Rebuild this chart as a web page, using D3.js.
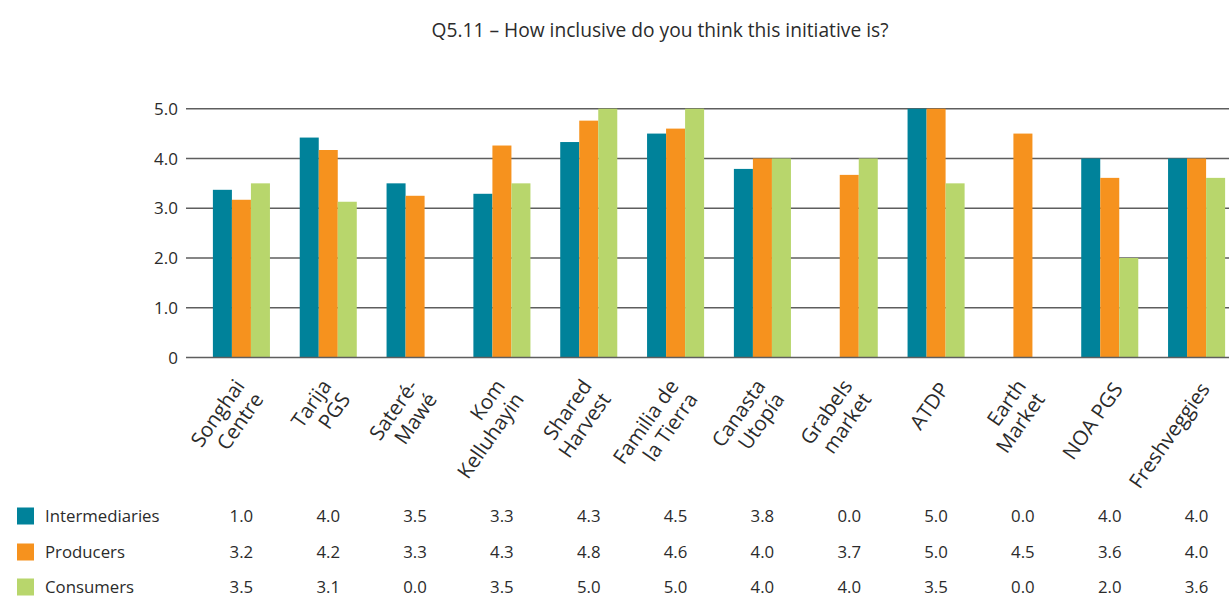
<!DOCTYPE html>
<html>
<head>
<meta charset="utf-8">
<script src="https://cdn.jsdelivr.net/npm/d3@7"></script>
<style>
  html, body { margin: 0; padding: 0; background: #fff; }
  svg { display: block; font-family: "Open Sans", "Noto Sans", sans-serif; }
</style>
</head>
<body>
<svg id="chart" width="1229" height="599"></svg>
<script>
// ---- Data ----
const title = "Q5.11 – How inclusive do you think this initiative is?";
const categories = ["Songhai Centre", "Tarija PGS", "Sateré-Mawé", "Kom Kelluhayin", "Shared Harvest",
  "Familia de la Tierra", "Canasta Utopía", "Grabels market", "ATDP", "Earth Market", "NOA PGS", "Freshveggies"];
const categoryLines = [["Songhai", "Centre"], ["Tarija", "PGS"], ["Sateré-", "Mawé"], ["Kom", "Kelluhayin"],
  ["Shared", "Harvest"], ["Familia de", "la Tierra"], ["Canasta", "Utopía"], ["Grabels", "market"],
  ["ATDP"], ["Earth", "Market"], ["NOA PGS"], ["Freshveggies"]];
const seriesNames = ["Intermediaries", "Producers", "Consumers"];
const intermediaries = [3.37, 4.42, 3.5, 3.29, 4.33, 4.5, 3.79, 0, 5.0, 0, 4.0, 4.0];
const producers      = [3.17, 4.17, 3.25, 4.26, 4.76, 4.6, 4.0, 3.67, 5.0, 4.5, 3.61, 4.0];
const consumers      = [3.5, 3.13, 0, 3.5, 5.0, 5.0, 4.0, 4.0, 3.5, 0, 2.0, 3.61];
// table labels as printed under the chart
const intermediariesLabels = ["1.0", "4.0", "3.5", "3.3", "4.3", "4.5", "3.8", "0.0", "5.0", "0.0", "4.0", "4.0"];
const producersLabels      = ["3.2", "4.2", "3.3", "4.3", "4.8", "4.6", "4.0", "3.7", "5.0", "4.5", "3.6", "4.0"];
const consumersLabels      = ["3.5", "3.1", "0.0", "3.5", "5.0", "5.0", "4.0", "4.0", "3.5", "0.0", "2.0", "3.6"];
const yTicks = [0, 1, 2, 3, 4, 5];
const yTickLabels = ["0", "1.0", "2.0", "3.0", "4.0", "5.0"];

const seriesValues = [intermediaries, producers, consumers];
const seriesLabels = [intermediariesLabels, producersLabels, consumersLabels];
const colors = ["#00829a", "#f6921e", "#b8d66c"];

// ---- Layout ----
const svg = d3.select("#chart");
const textColor = "#2b2b2b";

const x = d3.scaleBand().domain(categories).range([198, 1240]).paddingInner(0.343).paddingOuter(0.1715);
const xs = d3.scaleBand().domain(seriesNames).range([0, x.bandwidth()]);
const y = d3.scaleLinear().domain([0, 5]).range([357.5, 108.7]);

// title
svg.append("text")
  .attr("x", 660).attr("y", 37)
  .attr("text-anchor", "middle")
  .attr("font-size", 19.2)
  .attr("fill", textColor)
  .text(title);

// gridlines (non-zero)
const gridX1 = 186, gridX2 = 1229;
svg.append("g").selectAll("line")
  .data(yTicks.filter(d => d !== 0))
  .join("line")
  .attr("x1", gridX1).attr("x2", gridX2)
  .attr("y1", d => y(d)).attr("y2", d => y(d))
  .attr("stroke", "#5e5e5e").attr("stroke-width", 1.6);

// y tick labels
svg.append("g").selectAll("text")
  .data(yTicks)
  .join("text")
  .attr("x", 178).attr("y", d => y(d))
  .attr("dy", "0.36em")
  .attr("text-anchor", "end")
  .attr("font-size", 17)
  .attr("fill", textColor)
  .text((d, i) => yTickLabels[i]);

// bars
const groups = svg.append("g").selectAll("g")
  .data(categories)
  .join("g")
  .attr("transform", d => `translate(${x(d)},0)`);

groups.selectAll("rect")
  .data((c, ci) => seriesNames.map((s, si) => ({ s, si, v: seriesValues[si][ci] })))
  .join("rect")
  .attr("x", d => xs(d.s))
  .attr("width", xs.bandwidth())
  .attr("y", d => y(d.v))
  .attr("height", d => y(0) - y(d.v))
  .attr("fill", d => colors[d.si]);

// zero baseline on top
svg.append("line")
  .attr("x1", gridX1).attr("x2", gridX2)
  .attr("y1", y(0)).attr("y2", y(0))
  .attr("stroke", "#5e5e5e").attr("stroke-width", 1.6);

// category labels (rotated)
const angle = -55;
const lineH = 23;
const lab = svg.append("g").selectAll("g")
  .data(categories)
  .join("g")
  .attr("transform", (d, i) => {
    const cx = x(d) + x.bandwidth() / 2;
    const n = categoryLines[i].length;
    const ox = n === 1 ? 14 : 4;
    const oy = n === 1 ? 389 : 386;
    return `translate(${cx + ox},${oy}) rotate(${angle})`;
  });
lab.each(function (d, i) {
  const g = d3.select(this);
  categoryLines[i].forEach((t, li) => {
    g.append("text")
      .attr("x", 0)
      .attr("y", li * lineH)
      .attr("text-anchor", "end")
      .attr("font-size", 20.5)
      .attr("fill", textColor)
      .text(t);
  });
});

// legend + data table
const rowY = [516, 552, 587];
seriesNames.forEach((s, si) => {
  svg.append("rect")
    .attr("x", 17).attr("y", rowY[si] - 8.5)
    .attr("width", 17).attr("height", 17)
    .attr("fill", colors[si]);
  svg.append("text")
    .attr("x", 45).attr("y", rowY[si])
    .attr("dy", "0.36em")
    .attr("font-size", 16.8)
    .attr("fill", textColor)
    .text(s);
  svg.append("g").selectAll("text")
    .data(categories)
    .join("text")
    .attr("x", d => x(d) + x.bandwidth() / 2)
    .attr("y", rowY[si])
    .attr("dy", "0.36em")
    .attr("text-anchor", "middle")
    .attr("font-size", 16.8)
    .attr("fill", textColor)
    .text((d, ci) => seriesLabels[si][ci]);
});
</script>
</body>
</html>
